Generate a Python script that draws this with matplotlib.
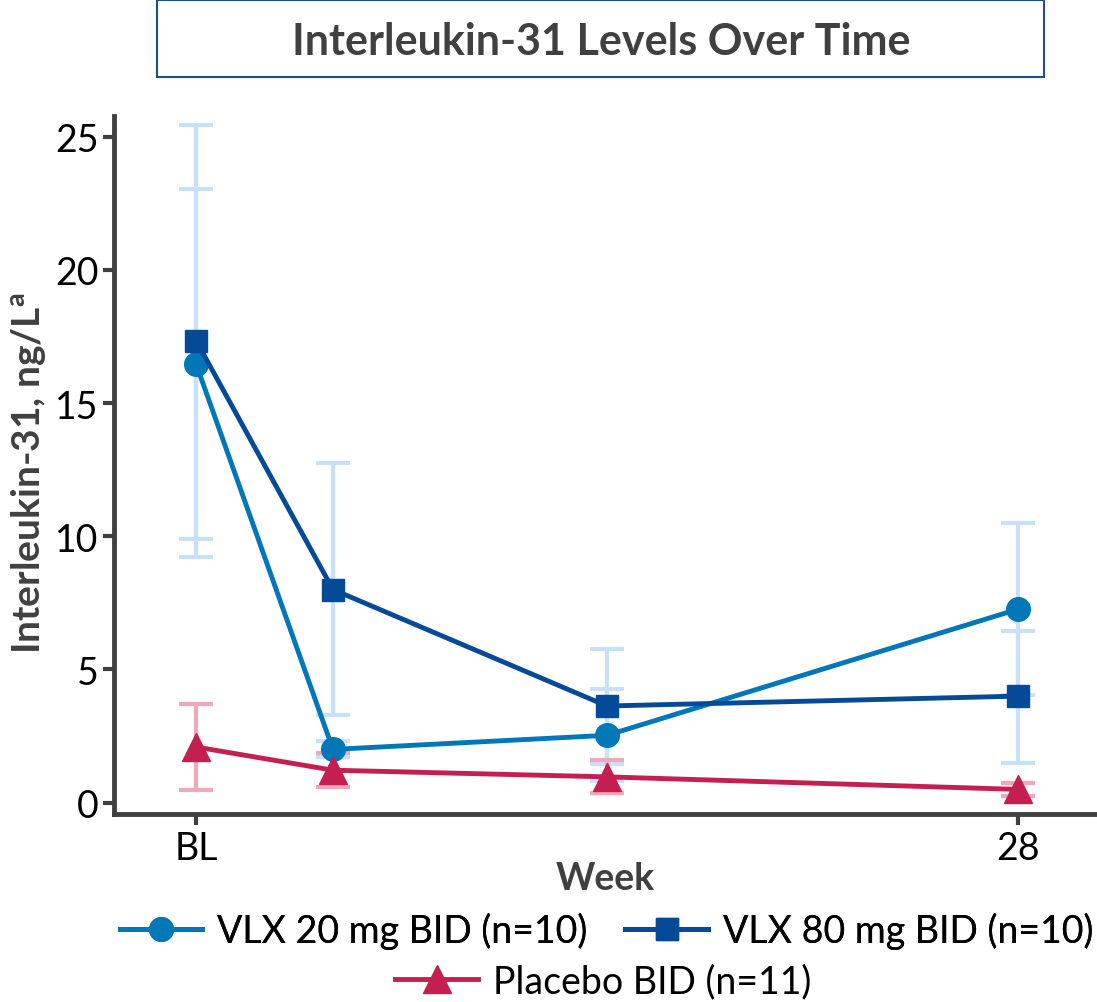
import matplotlib.pyplot as plt
from matplotlib.patches import Rectangle
import numpy as np

plt.rcParams['font.family'] = ['Lato', 'DejaVu Sans']

# Data
weeks = [0, 4.66, 14, 28]
tick_pos = [0, 28]
tick_labels = ['BL', '28']

vlx20 = [16.45, 2.0, 2.53, 7.26]
vlx20_lo = [9.91, 1.7, 0.81, 4.04]
vlx20_hi = [23.05, 2.3, 4.25, 10.48]

vlx80 = [17.33, 8.0, 3.63, 4.0]
vlx80_lo = [9.22, 3.29, 1.46, 1.5]
vlx80_hi = [25.42, 12.74, 5.78, 6.44]

placebo = [2.09, 1.22, 0.97, 0.5]
placebo_lo = [0.47, 0.59, 0.35, 0.25]
placebo_hi = [3.69, 1.85, 1.6, 0.75]

gray = '#404040'
c20 = '#0077B6'
c80 = '#054A96'
cpl = '#C41F50'
err_blue = '#C7E1FA'
err_pink = '#F0A8BB'

fig = plt.figure(figsize=(10.97, 10.03), dpi=100)
ax = fig.add_axes([0.104, 0.187, 0.896, 0.696])

def errs(mean, lo, hi):
    m = np.array(mean)
    return [m - np.array(lo), np.array(hi) - m]

# error bars first, behind the lines
for mean, lo, hi, ec in [(vlx20, vlx20_lo, vlx20_hi, err_blue),
                         (vlx80, vlx80_lo, vlx80_hi, err_blue),
                         (placebo, placebo_lo, placebo_hi, err_pink)]:
    ax.errorbar(weeks, mean, yerr=errs(mean, lo, hi), fmt='none', ecolor=ec,
                elinewidth=3, capsize=12, capthick=3, zorder=1)

l20, = ax.plot(weeks, vlx20, color=c20, lw=3.5, marker='o', ms=17, zorder=3,
               label='VLX 20 mg BID (n=10)')
l80, = ax.plot(weeks, vlx80, color=c80, lw=3.5, marker='s', ms=16, zorder=3,
               label='VLX 80 mg BID (n=10)')
lpl, = ax.plot(weeks, placebo, color=cpl, lw=3.5, marker='^', ms=20, zorder=3,
               label='Placebo BID (n=11)')

ax.set_xlim(-2.8, 30.7)
ax.set_ylim(-0.44, 25.76)
ax.set_yticks([0, 5, 10, 15, 20, 25])
ax.set_xticks(tick_pos)
ax.set_xticklabels(tick_labels)
ax.tick_params(axis='both', labelsize=27, colors=gray, width=3, length=8,
               labelcolor='black')
ax.tick_params(axis='y', pad=3)
for s in ['top', 'right']:
    ax.spines[s].set_visible(False)
for s in ['left', 'bottom']:
    ax.spines[s].set_color(gray)
    ax.spines[s].set_linewidth(3.5)

ax.set_xlabel('Week', fontsize=27, fontweight='bold', color=gray)
ax.xaxis.set_label_coords(0.5, -0.067)
ax.set_ylabel('Interleukin-31, ng/L$^{\\mathregular{a}}$', fontsize=28,
              fontweight='bold', color=gray)
ax.yaxis.set_label_coords(-0.067, 0.49)

# title box
fig.add_artist(Rectangle((0.143, 0.922), 0.809, 0.0768, transform=fig.transFigure,
                         fc='white', ec='#1F4E8C', lw=1.5))
fig.text(0.548, 0.958, 'Interleukin-31 Levels Over Time', ha='center',
         va='center', fontsize=31, fontweight='bold', color=gray)

leg1 = fig.legend(handles=[l20, l80], loc='center', ncol=2,
                  bbox_to_anchor=(0.553, 0.071), frameon=False, fontsize=27,
                  handlelength=2.2, columnspacing=1.0, handletextpad=0.4)
fig.add_artist(leg1)
fig.legend(handles=[lpl], loc='center', bbox_to_anchor=(0.55, 0.021),
           frameon=False, fontsize=27, handlelength=2.2, handletextpad=0.4)

fig.savefig('out.png', dpi=100)
